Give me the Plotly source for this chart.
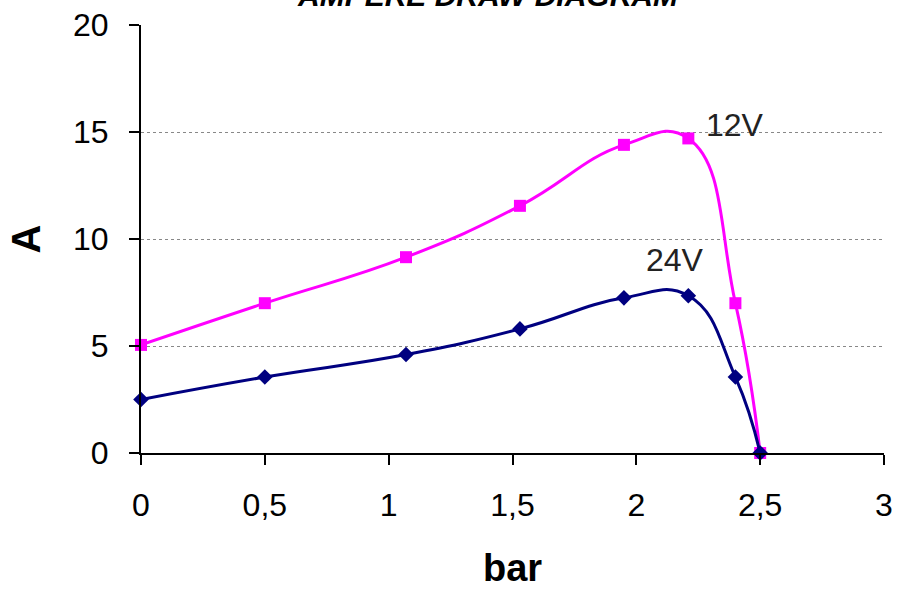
import plotly.graph_objects as go

pressure = [0, 0.5, 1.07, 1.53, 1.95, 2.21, 2.40, 2.50]
amp_12v = [5.05, 7.0, 9.15, 11.55, 14.4, 14.7, 7.0, 0]
amp_24v = [2.5, 3.55, 4.6, 5.8, 7.25, 7.35, 3.55, 0]
x_ticks = [0, 0.5, 1, 1.5, 2, 2.5, 3]
x_tick_labels = ["0", "0,5", "1", "1,5", "2", "2,5", "3"]
y_ticks = [0, 5, 10, 15, 20]

fig = go.Figure()
fig.add_trace(go.Scatter(
    x=pressure, y=amp_12v, mode="lines+markers", name="12V",
    line=dict(color="#FF00FF", width=3, shape="spline", smoothing=1.3),
    marker=dict(symbol="square", size=12, color="#FF00FF"),
    cliponaxis=False,
))
fig.add_trace(go.Scatter(
    x=pressure, y=amp_24v, mode="lines+markers", name="24V",
    line=dict(color="#000080", width=3, shape="spline", smoothing=1.3),
    marker=dict(symbol="diamond", size=12, color="#000080"),
    cliponaxis=False,
))

fig.add_annotation(x=2.398, y=15.33, text="12V", showarrow=False,
                   font=dict(size=32, color="#222222"), xanchor="center", yanchor="middle")
fig.add_annotation(x=2.156, y=9.02, text="24V", showarrow=False,
                   font=dict(size=32, color="#222222"), xanchor="center", yanchor="middle")
fig.add_annotation(xref="paper", yref="paper", x=0.467, y=1.025, yanchor="bottom",
                   text="<b><i>AMPERE DRAW DIAGRAM</i></b>", showarrow=False,
                   font=dict(size=30, color="#000000"))

fig.update_layout(
    width=903, height=589,
    margin=dict(l=141, r=19, t=25, b=136),
    paper_bgcolor="white", plot_bgcolor="white",
    font=dict(family="Liberation Sans, Arial, sans-serif", color="#000000"),
    showlegend=False,
)
fig.update_xaxes(
    range=[0, 3], tickvals=x_ticks, ticktext=x_tick_labels,
    showgrid=False, zeroline=False, automargin=False,
    showline=True, linecolor="#000000", linewidth=2,
    ticks="outside", ticklen=10, tickcolor="#000000", tickwidth=1.5,
    tickfont=dict(size=32),
    ticklabelstandoff=13,
    title=dict(text="<b>bar</b>", font=dict(size=38), standoff=33),
)
fig.update_yaxes(
    range=[0, 20], tickvals=y_ticks,
    showgrid=True, gridcolor="#888888", griddash="dot", gridwidth=1,
    zeroline=False, automargin=False,
    showline=True, linecolor="#000000", linewidth=2,
    ticks="outside", ticklen=10, tickcolor="#000000", tickwidth=1.5,
    tickfont=dict(size=32),
    ticklabelstandoff=14,
    title=dict(text="<b>A</b>", font=dict(size=40), standoff=20),
)

fig.write_html("out.html", config={"displayModeBar": False},
               post_script="document.body.style.margin='0';")
